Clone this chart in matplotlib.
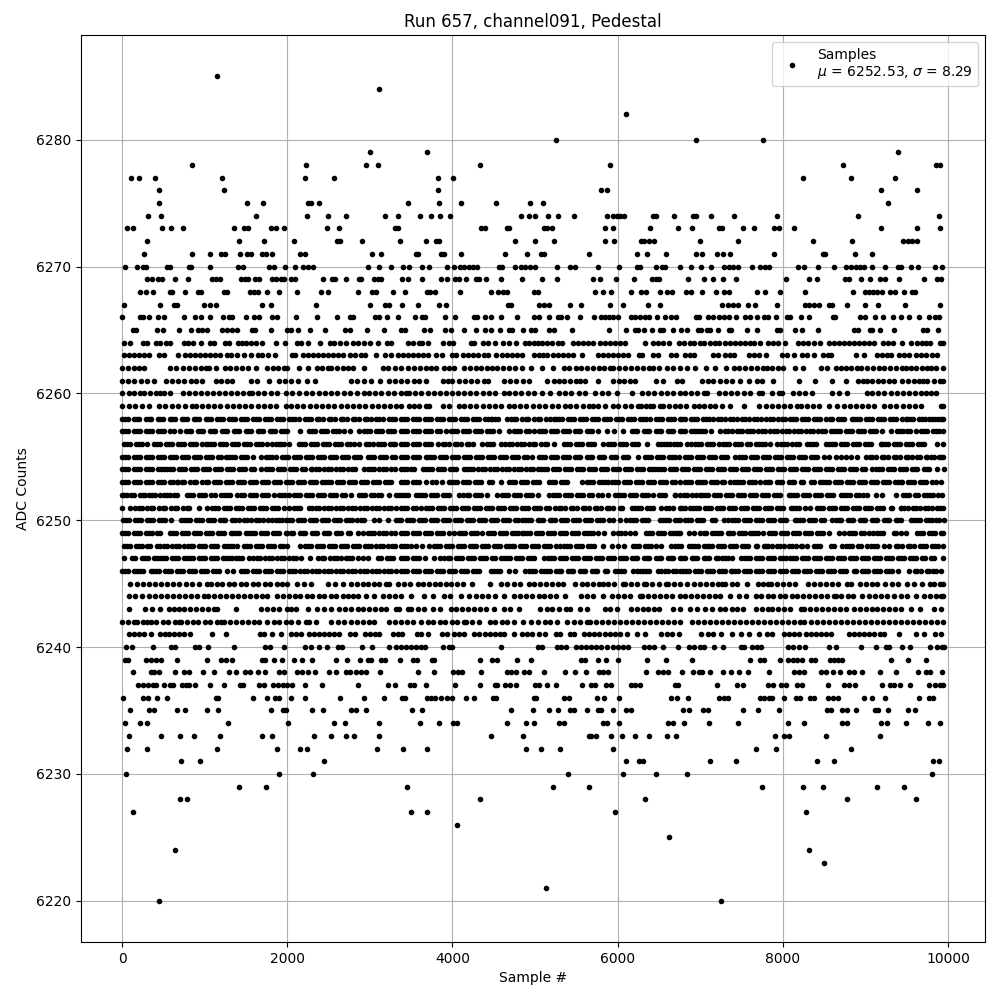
import matplotlib
matplotlib.use('Agg')
import matplotlib.pyplot as plt

# sample positions at each ADC level
x_6285 = [1148]
x_6284 = [3114]
x_6282 = [6105]
x_6280 = [5256, 6954, 7755]
x_6279 = [3005, 3696, 9393]
x_6278 = [845, 2228, 2956, 3102, 4339, 5911, 8726, 9854, 9903]
x_6277 = [105, 202, 396, 1209, 2216, 2568, 3830, 4012, 8240, 8823, 9356]
x_6276 = [445, 1233, 3830, 5802, 5875, 9187, 9623]
x_6275 = [445, 1512, 1707, 2253, 2293, 2386, 3466, 3842, 4109, 4521, 4934, 5098, 9272]
x_6274 = [311, 469, 1622, 2240, 2495, 2713, 3187, 3344, 3611, 3745, 3854, 3971, 4824, 4921, 5001, 5159, 5280, 5474,
          5875, 5947, 5996, 6032, 6081, 6433, 6469, 6687, 6918, 6954, 7136, 7403, 7925, 8908, 9890]
x_6273 = [57, 129, 481, 590, 736, 1355, 1476, 1525, 1804, 1864, 1961, 2483, 2629, 3308, 3344, 4351, 4388, 4663, 4687,
          5110, 5147, 5207, 5850, 5947, 6396, 6736, 6906, 7221, 7258, 7512, 7646, 7888, 7949, 8131, 9187, 9623, 9903]
x_6272 = [299, 1415, 1719, 2083, 2604, 2641, 2908, 3369, 3684, 3805, 3842, 4752, 5001, 5232, 5850, 5960, 6287, 6324,
          6384, 6445, 6991, 7452, 8362, 8835, 9454, 9514, 9563, 9623]
x_6271 = [263, 845, 1064, 1197, 1246, 1428, 1512, 1561, 1694, 1743, 1820, 2155, 2216, 3029, 3138, 3559, 3583, 3866,
          3902, 4109, 4630, 4897, 5074, 5110, 5656, 6239, 6360, 6590, 6954, 7027, 7197, 7270, 7355, 7888, 8483, 8507,
          8871, 9077]
x_6270 = [32, 178, 251, 287, 542, 578, 809, 833, 1064, 1403, 1464, 1779, 1840, 1973, 2095, 2192, 2253, 2313, 2980,
          3114, 3259, 3405, 3478, 3636, 3720, 3939, 4024, 4097, 4145, 4206, 4254, 4303, 4558, 4594, 4752, 4824, 4873,
          4934, 4997, 5268, 5426, 5486, 5765, 6020, 6239, 6275, 6469, 6542, 6578, 6760, 6894, 7003, 7136, 7282, 7343,
          7391, 7452, 7622, 7719, 7779, 7828, 8180, 8252, 8422, 8616, 8762, 8823, 8883, 8932, 8980, 9077, 9235, 9393,
          9429, 9551, 9636, 9842, 9927]
x_6269 = [299, 360, 433, 481, 639, 797, 1088, 1136, 1185, 1440, 1488, 1525, 1610, 1658, 1816, 1864, 1925, 1961, 2046,
          2095, 2434, 2544, 2580, 2713, 2871, 2896, 3053, 3102, 3138, 3393, 3466, 3636, 3866, 3939, 4036, 4084, 4169,
          4279, 4327, 4400, 4582, 4837, 5086, 5268, 5705, 5790, 5984, 6202, 6421, 6469, 6505, 6857, 7051, 7149, 7270,
          7428, 8034, 8313, 8410, 8750, 8798, 8944, 9053, 9175, 9235, 9405, 9708, 9866, 9915]
x_6268 = [214, 287, 372, 578, 603, 760, 918, 954, 1233, 1270, 1549, 1597, 1646, 1755, 1901, 2119, 2410, 2495, 2859,
          3029, 3078, 3284, 3429, 3696, 3733, 3793, 4097, 4461, 4546, 4606, 4655, 4982, 5031, 5729, 5826, 5923, 6166,
          6287, 6348, 6518, 6603, 6663, 6833, 6882, 7027, 7185, 7282, 7343, 7682, 7779, 7961, 8265, 8847, 8993, 9041,
          9090, 9138, 9199, 9296, 9356, 9466, 9563, 9599]
x_6267 = [20, 457, 627, 663, 991, 1064, 1136, 1694, 1804, 2350, 3005, 3187, 3235, 3393, 3587, 3842, 3927, 4667, 4703,
          5043, 5110, 5171, 5426, 5559, 5911, 6069, 6372, 6518, 7258, 7330, 7391, 7452, 7573, 7658, 7925, 8265, 8313,
          8374, 8438, 8556, 8592, 8774, 8993, 9150, 9478, 9903]
x_6266 = [0, 214, 251, 324, 433, 505, 748, 882, 954, 1064, 1221, 1294, 1330, 1500, 1597, 1658, 1816, 1876, 2107, 2362,
          2604, 2762, 2798, 3065, 3114, 3211, 3344, 3551, 3636, 3672, 3915, 4036, 4266, 4303, 4388, 4461, 4582, 4776,
          4989, 5050, 5171, 5280, 5317, 5389, 5547, 5717, 5802, 5850, 5899, 5947, 6008, 6166, 6214, 6275, 6336, 6384,
          6481, 6578, 6651, 6712, 6954, 6979, 7088, 7149, 7221, 7282, 7343, 7428, 7537, 7597, 7686, 7767, 7816, 7913,
          8046, 8083, 8216, 8313, 8604, 8628, 8932, 8993, 9114, 9211, 9332, 9429, 9526, 9648, 9769, 9842, 9890]
x_6265 = [129, 166, 421, 493, 688, 833, 918, 967, 1027, 1209, 1270, 1330, 1391, 1573, 1610, 1804, 1998, 2046, 2131,
          2277, 2459, 2701, 2762, 2968, 3175, 3381, 3429, 3660, 3733, 3915, 3987, 4145, 4279, 4388, 4461, 4570, 4679,
          4715, 4849, 4946, 4994, 5171, 5232, 5450, 5899, 6105, 6214, 6251, 6324, 6421, 6518, 6554, 6675, 6772, 6845,
          6967, 7015, 7076, 7124, 7209, 7343, 7367, 7561, 7682, 7925, 7961, 8143, 8228, 8422, 8859, 8908, 9053, 9077,
          9175, 9344, 9696, 9745, 9878]
x_6264 = [20, 93, 251, 299, 408, 457, 530, 578, 748, 797, 857, 954, 1064, 1112, 1246, 1294, 1403, 1452, 1500, 1561,
          1622, 1694, 1864, 1973, 2119, 2168, 2253, 2398, 2519, 2568, 2641, 2713, 2798, 2859, 2932, 3005, 3102, 3211,
          3259, 3466, 3527, 3599, 3636, 3708, 3890, 3963, 4012, 4230, 4266, 4364, 4436, 4509, 4606, 4679, 4764, 4873,
          4921, 4989, 5037, 5086, 5147, 5207, 5280, 5329, 5462, 5523, 5583, 5644, 5705, 5790, 5850, 5911, 5972, 6032,
          6093, 6332, 6433, 6493, 6554, 6627, 6748, 6809, 6870, 6930, 6991, 7051, 7112, 7173, 7233, 7294, 7355, 7415,
          7476, 7537, 7597, 7646, 7719, 7816, 7876, 7937, 8022, 8180, 8240, 8301, 8374, 8447, 8556, 8616, 8677, 8738,
          8798, 8859, 8920, 8980, 9041, 9102, 9211, 9272, 9332, 9441, 9551, 9623, 9684, 9733, 9781, 9903, 9939]
x_6263 = [20, 81, 142, 202, 263, 324, 445, 505, 675, 760, 821, 882, 942, 1003, 1064, 1124, 1185, 1270, 1318, 1391,
          1476, 1561, 1646, 1694, 1767, 1852, 2058, 2095, 2192, 2253, 2313, 2374, 2434, 2495, 2556, 2616, 2677, 2762,
          2823, 2896, 2944, 3078, 3187, 3259, 3344, 3405, 3466, 3527, 3587, 3648, 3700, 3805, 3878, 4000, 4048, 4133,
          4194, 4254, 4315, 4376, 4436, 4533, 4594, 4655, 4715, 4776, 4837, 4982, 5043, 5098, 5147, 5220, 5280, 5341,
          5401, 5462, 5571, 5765, 5826, 5887, 5947, 6008, 6069, 6129, 6263, 6299, 6433, 6493, 6651, 6712, 6821, 6870,
          6930, 7149, 7209, 7294, 7355, 7403, 7585, 7646, 7707, 7791, 7985, 8046, 8131, 8228, 8289, 8374, 8483, 8544,
          8580, 8883, 8980, 9138, 9199, 9260, 9308, 9405, 9466, 9526, 9611, 9672, 9733, 9805, 9866]
x_6262 = [0, 70, 140, 205, 263, 586, 650, 740, 809, 880, 950, 1020, 1051, 1132, 1241, 1310, 1385, 1450, 1525, 1618,
          1759, 1825, 1890, 1960, 2002, 2143, 2253, 2358, 2425, 2487, 2528, 2600, 2669, 2730, 2790, 2932, 3155, 3225,
          3300, 3378, 3458, 3538, 3610, 3680, 3745, 3799, 3892, 3955, 4020, 4140, 4210, 4285, 4350, 4420, 4482, 4542,
          4610, 4680, 4760, 4843, 4952, 5085, 5213, 5345, 5415, 5490, 5560, 5630, 5700, 5770, 5840, 5907, 5947, 6020,
          6090, 6165, 6240, 6310, 6380, 6430, 6503, 6600, 6670, 6750, 6840, 6933, 7074, 7175, 7309, 7406, 7475, 7545,
          7620, 7690, 7760, 7810, 7871, 7940, 8004, 8145, 8246, 8456, 8530, 8638, 8699, 8770, 8830, 8893, 8950, 9020,
          9090, 9160, 9230, 9300, 9370, 9440, 9487, 9547, 9610, 9680, 9749, 9790, 9860, 9945]
x_6261 = [0, 75, 150, 225, 300, 384, 526, 600, 680, 750, 830, 900, 970, 1132, 1197, 1265, 1334, 1557, 1638, 1780, 1900,
          1975, 2050, 2125, 2236, 2337, 2770, 2850, 2930, 3013, 3126, 3235, 3310, 3378, 3450, 3530, 3600, 3679, 3880,
          3940, 4000, 4080, 4150, 4225, 4300, 4381, 4430, 4622, 4700, 4775, 4850, 4924, 5145, 5225, 5285, 5350, 5420,
          5490, 5545, 5606, 5767, 5948, 6015, 6080, 6150, 6209, 6470, 6550, 6720, 6780, 7022, 7090, 7160, 7235, 7310,
          7380, 7487, 7588, 7681, 7750, 7879, 8194, 8384, 8590, 8768, 8909, 8970, 9022, 9083, 9150, 9215, 9280, 9345,
          9446, 9515, 9585, 9650, 9700, 9749, 9830, 9900, 9945]
x_6260 = [0, 81, 142, 222, 263, 335, 405, 465, 505, 586, 740, 810, 885, 955, 1030, 1105, 1175, 1250, 1320, 1395, 1465,
          1537, 1577, 1650, 1720, 1800, 1880, 1981, 2060, 2140, 2224, 2305, 2380, 2455, 2530, 2608, 2689, 2760, 2850,
          2932, 2993, 3065, 3140, 3215, 3290, 3378, 3438, 3478, 3550, 3625, 3700, 3775, 3850, 3920, 3995, 4070, 4145,
          4215, 4290, 4365, 4440, 4510, 4622, 4683, 4760, 4835, 4910, 4985, 5084, 5176, 5285, 5365, 5440, 5530, 5606,
          5727, 5805, 5887, 5988, 6168, 6297, 6370, 6445, 6520, 6600, 6675, 6750, 6820, 6890, 6965, 7040, 7083, 7228,
          7300, 7375, 7450, 7525, 7600, 7709, 7750, 7871, 7952, 7992, 8125, 8194, 8267, 8356, 8598, 8680, 8780, 9022,
          9083, 9155, 9230, 9305, 9380, 9455, 9530, 9600, 9669, 9729, 9790, 9850]
x_6259 = [0, 80, 160, 245, 324, 445, 520, 600, 680, 765, 849, 890, 965, 1040, 1115, 1190, 1265, 1340, 1415, 1490, 1565,
          1640, 1715, 1790, 1865, 1982, 2042, 2120, 2195, 2270, 2345, 2420, 2495, 2570, 2645, 2720, 2795, 2870, 2945,
          3020, 3095, 3170, 3245, 3320, 3378, 3478, 3530, 3600, 3679, 3719, 3880, 3960, 4080, 4140, 4215, 4290, 4365,
          4440, 4515, 4590, 4683, 4743, 4820, 4895, 4970, 5045, 5120, 5200, 5280, 5365, 5425, 5500, 5575, 5650, 5706,
          5767, 5850, 5948, 6008, 6085, 6160, 6249, 6277, 6340, 6390, 6430, 6510, 6550, 6625, 6690, 6750, 6832, 6920,
          6981, 7050, 7123, 7184, 7265, 7357, 7527, 7709, 7790, 7865, 7940, 8015, 8090, 8174, 8222, 8287, 8365, 8440,
          8558, 8659, 8740, 8810, 8881, 8961, 9030, 9103, 9224, 9300, 9375, 9450, 9525, 9600, 9669, 9911, 9945]
x_6258 = [0, 70, 140, 210, 285, 355, 430, 500, 575, 645, 720, 790, 865, 935, 1010, 1080, 1155, 1225, 1300, 1370, 1445,
          1515, 1590, 1660, 1735, 1805, 1880, 1950, 2025, 2095, 2143, 2210, 2285, 2355, 2430, 2500, 2575, 2645, 2720,
          2790, 2865, 2935, 3010, 3080, 3155, 3235, 3310, 3378, 3450, 3520, 3595, 3665, 3740, 3810, 3885, 3955, 4030,
          4100, 4175, 4245, 4320, 4390, 4462, 4483, 4555, 4663, 4703, 4775, 4845, 4920, 4990, 5065, 5135, 5225, 5253,
          5325, 5400, 5470, 5545, 5615, 5690, 5760, 5835, 5905, 5980, 6050, 6125, 6195, 6270, 6340, 6390, 6470, 6540,
          6615, 6685, 6750, 6820, 6890, 6965, 7034, 7075, 7150, 7220, 7295, 7365, 7440, 7510, 7585, 7655, 7730, 7800,
          7875, 7945, 8020, 8090, 8165, 8235, 8310, 8380, 8455, 8525, 8600, 8670, 8745, 8840, 8860, 8935, 9005, 9080,
          9150, 9225, 9295, 9370, 9440, 9487, 9507, 9580, 9650, 9725, 9770, 9800, 9875, 9945]
x_6257 = [0, 70, 145, 215, 290, 360, 435, 505, 580, 627, 700, 768, 840, 915, 985, 1060, 1130, 1205, 1275, 1350, 1420,
          1495, 1565, 1640, 1710, 1785, 1855, 1930, 2002, 2155, 2265, 2340, 2410, 2485, 2555, 2629, 2681, 2755, 2871,
          2932, 3005, 3080, 3150, 3225, 3295, 3378, 3450, 3525, 3595, 3670, 3740, 3815, 3920, 3980, 4055, 4125, 4200,
          4270, 4345, 4415, 4490, 4560, 4683, 4743, 4815, 4890, 4984, 5044, 5115, 5190, 5260, 5335, 5405, 5480, 5550,
          5625, 5695, 5767, 5868, 5956, 6068, 6168, 6240, 6315, 6385, 6460, 6530, 6605, 6675, 6750, 6820, 6890, 6950,
          6980, 7055, 7125, 7245, 7305, 7380, 7450, 7507, 7560, 7635, 7705, 7780, 7850, 7925, 7995, 8070, 8140, 8215,
          8285, 8360, 8430, 8505, 8578, 8618, 8690, 8765, 8835, 8910, 8980, 9055, 9125, 9200, 9305, 9386, 9460, 9540,
          9608, 9677, 9750, 9820, 9895, 9945]
x_6256 = [20, 95, 165, 240, 303, 384, 455, 530, 600, 675, 745, 820, 890, 965, 1011, 1039, 1110, 1185, 1255, 1330, 1400,
          1475, 1545, 1620, 1690, 1759, 1820, 1895, 1965, 2022, 2143, 2215, 2290, 2360, 2435, 2505, 2580, 2650, 2725,
          2811, 2871, 2950, 3033, 3094, 3165, 3240, 3310, 3378, 3450, 3525, 3595, 3670, 3740, 3819, 3880, 3955, 4025,
          4100, 4170, 4245, 4361, 4421, 4495, 4582, 4642, 4715, 4785, 4860, 4930, 5005, 5075, 5150, 5225, 5345, 5420,
          5490, 5565, 5635, 5710, 5827, 5887, 5960, 6030, 6105, 6175, 6250, 6350, 6490, 6565, 6635, 6680, 6750, 6840,
          6890, 6940, 7010, 7085, 7155, 7224, 7277, 7350, 7420, 7495, 7565, 7669, 7709, 7780, 7850, 7931, 7972, 8045,
          8115, 8190, 8295, 8327, 8400, 8517, 8558, 8630, 8700, 8775, 8845, 8920, 8990, 9065, 9184, 9204, 9275, 9350,
          9420, 9495, 9565, 9640, 9709, 9870, 9945]
x_6255 = [0, 70, 145, 215, 290, 360, 435, 505, 580, 650, 725, 795, 870, 940, 1015, 1085, 1160, 1254, 1294, 1365, 1440,
          1510, 1585, 1678, 1739, 1820, 1860, 1935, 2005, 2080, 2150, 2225, 2295, 2370, 2440, 2515, 2585, 2660, 2730,
          2805, 2875, 2972, 3053, 3125, 3200, 3270, 3378, 3450, 3525, 3595, 3679, 3700, 3775, 3845, 3920, 3990, 4065,
          4135, 4210, 4280, 4355, 4425, 4500, 4570, 4645, 4715, 4790, 4860, 4964, 5044, 5115, 5190, 5260, 5335, 5405,
          5480, 5550, 5625, 5695, 5770, 5840, 5915, 5985, 6060, 6130, 6249, 6330, 6405, 6475, 6550, 6620, 6695, 6740,
          6815, 6885, 6960, 7030, 7105, 7175, 7250, 7320, 7426, 7467, 7540, 7610, 7685, 7755, 7830, 7900, 7975, 8045,
          8120, 8190, 8265, 8335, 8410, 8497, 8558, 8638, 8700, 8760, 8820, 8895, 9002, 9050, 9125, 9195, 9270, 9340,
          9415, 9485, 9560, 9630, 9729, 9749, 9825, 9895, 9945]
x_6254 = [0, 70, 145, 215, 290, 360, 435, 505, 546, 620, 690, 765, 835, 910, 980, 1055, 1125, 1200, 1270, 1345, 1415,
          1490, 1560, 1678, 1739, 1810, 1885, 1955, 2030, 2100, 2175, 2285, 2305, 2380, 2450, 2525, 2595, 2670, 2740,
          2815, 2932, 2972, 3045, 3115, 3190, 3260, 3378, 3445, 3498, 3538, 3639, 3679, 3755, 3825, 3900, 3970, 4045,
          4140, 4172, 4245, 4315, 4390, 4460, 4535, 4605, 4680, 4750, 4825, 4895, 4970, 5040, 5104, 5145, 5220, 5290,
          5365, 5435, 5510, 5580, 5655, 5725, 5800, 5870, 5945, 6015, 6090, 6160, 6235, 6305, 6380, 6450, 6490, 6565,
          6635, 6710, 6780, 6855, 6925, 7000, 7070, 7145, 7215, 7290, 7360, 7435, 7505, 7580, 7650, 7725, 7795, 7870,
          7940, 8015, 8085, 8160, 8230, 8305, 8375, 8450, 8520, 8595, 8665, 8740, 8810, 8885, 8955, 9083, 9123, 9195,
          9270, 9340, 9415, 9485, 9560, 9630, 9705, 9775, 9870, 9950]
x_6253 = [0, 70, 145, 215, 290, 360, 435, 505, 580, 663, 680, 755, 825, 900, 970, 1045, 1115, 1190, 1260, 1335, 1405,
          1480, 1550, 1625, 1695, 1770, 1840, 1915, 1985, 2060, 2130, 2205, 2275, 2350, 2420, 2487, 2527, 2600, 2670,
          2745, 2815, 2890, 2960, 3035, 3105, 3180, 3250, 3378, 3450, 3525, 3595, 3679, 3750, 3800, 3875, 3960, 3980,
          4055, 4125, 4200, 4270, 4345, 4442, 4482, 4582, 4683, 4755, 4830, 4900, 4975, 5044, 5165, 5240, 5310, 5385,
          5574, 5626, 5700, 5770, 5845, 5887, 5927, 6000, 6075, 6145, 6220, 6290, 6365, 6435, 6510, 6580, 6655, 6750,
          6820, 6890, 6960, 6980, 7055, 7125, 7200, 7265, 7285, 7360, 7406, 7446, 7520, 7590, 7665, 7729, 7778, 7850,
          7925, 7995, 8070, 8140, 8215, 8335, 8375, 8450, 8517, 8558, 8630, 8705, 8775, 8850, 8920, 8995, 9065, 9140,
          9210, 9285, 9355, 9426, 9446, 9520, 9590, 9665, 9735, 9810, 9910]
x_6252 = [0, 20, 61, 142, 215, 283, 324, 395, 465, 505, 575, 627, 667, 789, 860, 935, 1005, 1080, 1193, 1234, 1310, 1395,
          1476, 1550, 1620, 1695, 1765, 1840, 1900, 1941, 2015, 2085, 2160, 2230, 2305, 2375, 2450, 2520, 2595, 2665,
          2770, 2871, 2945, 3015, 3094, 3134, 3235, 3317, 3390, 3460, 3558, 3598, 3670, 3745, 3815, 3890, 3960, 4080,
          4132, 4205, 4275, 4350, 4420, 4542, 4602, 4675, 4745, 4820, 4890, 4965, 5035, 5165, 5217, 5290, 5360, 5435,
          5505, 5580, 5650, 5767, 5807, 5880, 5968, 6008, 6080, 6155, 6225, 6300, 6369, 6430, 6505, 6575, 6691, 6700,
          6760, 6835, 6905, 7002, 7022, 7095, 7165, 7240, 7310, 7385, 7455, 7530, 7600, 7675, 7745, 7820, 7890, 7965,
          8073, 8100, 8175, 8245, 8320, 8390, 8465, 8535, 8610, 8700, 8740, 8815, 8885, 8974, 9022, 9123, 9204, 9366,
          9455, 9530, 9600, 9709, 9749, 9820, 9930]
x_6251 = [0, 101, 162, 235, 305, 380, 450, 525, 595, 670, 740, 815, 930, 1023, 1092, 1165, 1235, 1310, 1380, 1455, 1525,
          1600, 1670, 1745, 1815, 1890, 1960, 2022, 2083, 2160, 2265, 2305, 2380, 2450, 2525, 2595, 2670, 2740, 2815,
          2885, 2960, 3030, 3105, 3175, 3250, 3320, 3378, 3450, 3525, 3618, 3679, 3755, 3825, 3900, 3970, 4045, 4115,
          4190, 4260, 4335, 4405, 4480, 4550, 4625, 4695, 4770, 4840, 4915, 4985, 5060, 5130, 5245, 5285, 5360, 5430,
          5505, 5575, 5650, 5720, 5795, 5865, 5940, 6028, 6048, 6168, 6209, 6280, 6355, 6425, 6530, 6590, 6665, 6750,
          6820, 6880, 6910, 6985, 7055, 7130, 7200, 7275, 7345, 7420, 7490, 7565, 7635, 7710, 7780, 7855, 7925, 8000,
          8093, 8125, 8200, 8270, 8327, 8416, 8490, 8560, 8635, 8705, 8780, 8850, 8925, 8995, 9070, 9140, 9215, 9305,
          9325, 9426, 9435, 9510, 9580, 9655, 9725, 9800, 9870, 9945]
x_6250 = [8, 81, 155, 225, 300, 370, 445, 515, 590, 708, 748, 820, 895, 965, 1040, 1110, 1185, 1241, 1335, 1410, 1480,
          1555, 1625, 1700, 1770, 1860, 1900, 1941, 1981, 2055, 2125, 2200, 2270, 2345, 2415, 2490, 2560, 2635, 2705,
          2780, 2850, 2925, 3053, 3114, 3223, 3316, 3378, 3450, 3520, 3595, 3665, 3740, 3810, 3885, 3955, 4030, 4100,
          4175, 4245, 4320, 4390, 4465, 4535, 4610, 4680, 4755, 4843, 4884, 4955, 5030, 5100, 5175, 5245, 5320, 5390,
          5465, 5535, 5610, 5680, 5755, 5825, 5900, 6028, 6096, 6148, 6220, 6295, 6365, 6510, 6550, 6625, 6695, 6750,
          6820, 6890, 6965, 7035, 7143, 7184, 7285, 7333, 7385, 7460, 7530, 7605, 7675, 7750, 7820, 7895, 7965, 8040,
          8153, 8174, 8250, 8320, 8395, 8465, 8598, 8638, 8710, 8785, 8855, 8930, 9000, 9075, 9145, 9220, 9290, 9365,
          9435, 9547, 9587, 9660, 9730, 9805, 9890, 9950]
x_6249 = [0, 70, 145, 215, 290, 360, 425, 457, 578, 650, 725, 795, 870, 940, 1015, 1085, 1160, 1230, 1314, 1347, 1420,
          1496, 1537, 1610, 1680, 1755, 1825, 1900, 1982, 2002, 2075, 2150, 2220, 2295, 2365, 2440, 2510, 2585, 2655,
          2730, 2851, 2912, 2972, 3045, 3115, 3190, 3260, 3378, 3450, 3520, 3595, 3665, 3740, 3810, 3885, 3960, 4020,
          4080, 4155, 4225, 4300, 4361, 4430, 4505, 4575, 4650, 4720, 4795, 4843, 4863, 4935, 5010, 5080, 5155, 5225,
          5300, 5370, 5445, 5515, 5590, 5667, 5700, 5767, 5840, 5948, 6008, 6085, 6150, 6209, 6341, 6415, 6485, 6560,
          6630, 6710, 6730, 6760, 6860, 6930, 7002, 7075, 7143, 7184, 7255, 7330, 7400, 7475, 7545, 7608, 7628, 7700,
          7760, 7830, 7905, 7975, 8050, 8120, 8195, 8265, 8340, 8410, 8485, 8555, 8679, 8739, 8800, 8875, 8945, 9043,
          9090, 9143, 9215, 9345, 9366, 9430, 9487, 9620, 9695, 9765, 9840, 9910, 9945]
x_6248 = [20, 95, 165, 240, 303, 335, 425, 465, 540, 610, 685, 755, 829, 861, 935, 1005, 1080, 1150, 1233, 1274, 1345,
          1395, 1476, 1550, 1620, 1695, 1765, 1840, 1910, 2002, 2155, 2212, 2285, 2355, 2430, 2500, 2575, 2645, 2720,
          2790, 2865, 2935, 3010, 3080, 3155, 3225, 3300, 3378, 3450, 3498, 3558, 3630, 3719, 3779, 3850, 3925, 3995,
          4070, 4140, 4215, 4285, 4360, 4430, 4505, 4575, 4650, 4723, 4743, 4815, 4890, 4960, 5035, 5105, 5180, 5250,
          5305, 5345, 5420, 5490, 5565, 5635, 5710, 5827, 5928, 6008, 6080, 6181, 6255, 6325, 6400, 6470, 6530, 6650,
          6700, 6770, 6860, 6900, 6975, 7045, 7103, 7143, 7215, 7290, 7360, 7435, 7505, 7580, 7669, 7689, 7770, 7790,
          7865, 7935, 8010, 8080, 8155, 8214, 8234, 8295, 8376, 8450, 8578, 8618, 8719, 8768, 8840, 8915, 9022, 9062,
          9135, 9224, 9285, 9366, 9440, 9510, 9585, 9655, 9730, 9800, 9875, 9945]
x_6247 = [20, 121, 162, 243, 315, 385, 425, 457, 530, 600, 675, 745, 820, 861, 930, 1005, 1075, 1150, 1220, 1295, 1334,
          1375, 1450, 1537, 1590, 1665, 1735, 1810, 1880, 1955, 2025, 2100, 2164, 2273, 2374, 2450, 2520, 2608, 2649,
          2709, 2780, 2855, 2912, 2972, 3094, 3134, 3205, 3280, 3378, 3450, 3520, 3595, 3665, 3779, 3851, 3900, 3975,
          4045, 4120, 4190, 4265, 4335, 4410, 4480, 4582, 4622, 4695, 4765, 4840, 4910, 4985, 5104, 5153, 5225, 5300,
          5370, 5445, 5515, 5590, 5660, 5735, 5805, 5880, 5950, 6025, 6095, 6170, 6240, 6315, 6385, 6460, 6530, 6605,
          6675, 6750, 6820, 6895, 6965, 7040, 7110, 7185, 7265, 7305, 7380, 7495, 7527, 7600, 7670, 7745, 7815, 7890,
          7960, 8044, 8085, 8160, 8230, 8305, 8375, 8450, 8520, 8595, 8665, 8740, 8810, 8885, 8955, 9030, 9100, 9175,
          9245, 9320, 9390, 9465, 9535, 9610, 9680, 9790, 9830, 9945]
x_6246 = [0, 75, 150, 222, 255, 344, 376, 450, 520, 595, 665, 740, 810, 885, 955, 1030, 1100, 1175, 1274, 1343, 1436,
          1510, 1580, 1655, 1725, 1800, 1870, 1945, 2015, 2090, 2160, 2235, 2305, 2380, 2450, 2525, 2595, 2670, 2740,
          2815, 2885, 2960, 3030, 3105, 3175, 3250, 3320, 3378, 3450, 3520, 3595, 3665, 3740, 3810, 3885, 3955, 4030,
          4100, 4175, 4245, 4320, 4462, 4502, 4575, 4683, 4763, 4884, 4924, 5000, 5070, 5145, 5177, 5250, 5320, 5395,
          5465, 5540, 5610, 5685, 5755, 5847, 5868, 5968, 6000, 6075, 6189, 6237, 6310, 6380, 6490, 6530, 6605, 6675,
          6760, 6792, 6865, 6935, 7010, 7080, 7155, 7225, 7300, 7374, 7385, 7460, 7530, 7605, 7675, 7750, 7820, 7895,
          7965, 8040, 8110, 8185, 8255, 8330, 8400, 8475, 8545, 8620, 8690, 8765, 8860, 8880, 8960, 9035, 9105, 9180,
          9250, 9325, 9395, 9527, 9595, 9670, 9740, 9815, 9910]
x_6245 = [101, 182, 255, 325, 400, 470, 545, 615, 690, 768, 849, 930, 1031, 1072, 1145, 1215, 1290, 1360, 1435, 1505,
          1580, 1650, 1725, 1795, 1870, 1940, 2002, 2123, 2200, 2285, 2487, 2580, 2669, 2770, 2840, 2912, 2972, 3045,
          3115, 3190, 3235, 3340, 3415, 3485, 3578, 3638, 3710, 3785, 3855, 3920, 3980, 4060, 4130, 4241, 4450, 4582,
          4655, 4743, 4823, 4924, 4984, 5055, 5130, 5200, 5275, 5337, 5486, 5566, 5626, 5700, 5770, 5827, 5887, 5960,
          6068, 6088, 6160, 6235, 6317, 6349, 6420, 6495, 6590, 6610, 6685, 6750, 6840, 6920, 6995, 7065, 7140, 7210,
          7265, 7305, 7380, 7450, 7560, 7697, 7760, 7818, 7860, 7935, 8005, 8080, 8153, 8303, 8375, 8450, 8520, 8595,
          8665, 8780, 8820, 8933, 9002, 9075, 9143, 9236, 9325, 9400, 9507, 9588, 9689, 9782, 9830, 9905, 9945]
x_6244 = [81, 155, 243, 324, 400, 470, 545, 615, 690, 760, 835, 905, 990, 1039, 1115, 1185, 1260, 1330, 1405, 1475, 1550,
          1620, 1695, 1759, 1872, 1945, 2015, 2090, 2160, 2235, 2305, 2380, 2450, 2525, 2595, 2670, 2740, 2790, 2851,
          2952, 3053, 3154, 3230, 3300, 3378, 3498, 3650, 3760, 3892, 3972, 4108, 4200, 4281, 4361, 4435, 4510, 4622,
          4743, 4815, 4890, 4960, 5044, 5112, 5185, 5255, 5365, 5554, 5630, 5706, 5827, 5928, 6000, 6075, 6145, 6269,
          6297, 6370, 6440, 6515, 6585, 6660, 6750, 6815, 6890, 6960, 7035, 7105, 7184, 7245, 7366, 7467, 7548, 7669,
          7740, 7815, 7885, 7960, 8030, 8105, 8175, 8250, 8320, 8395, 8465, 8540, 8618, 8638, 8710, 8785, 8855, 8962,
          9046, 9111, 9185, 9255, 9345, 9426, 9500, 9608, 9709, 9780, 9850, 9911, 9945]
x_6243 = [81, 283, 364, 465, 566, 627, 690, 748, 821, 890, 965, 1035, 1110, 1152, 1375, 1678, 1755, 1825, 1900, 2002,
          2042, 2103, 2253, 2358, 2447, 2528, 2629, 2700, 2775, 2851, 2912, 2985, 3060, 3134, 3195, 3317, 3357, 3458,
          3498, 3578, 3659, 3760, 3851, 3980, 4040, 4115, 4185, 4260, 4330, 4405, 4502, 4622, 4695, 4803, 5064, 5140,
          5210, 5285, 5377, 5425, 5546, 5626, 5847, 5907, 5988, 6157, 6230, 6309, 6370, 6445, 6502, 6670, 6750, 6880,
          6955, 7063, 7143, 7245, 7305, 7380, 7450, 7519, 7669, 7745, 7818, 7870, 7945, 8015, 8090, 8214, 8255, 8325,
          8396, 8477, 8550, 8620, 8695, 8768, 8860, 8935, 9005, 9083, 9143, 9215, 9290, 9360, 9426, 9547, 9660, 9830,
          9911]
x_6242 = [0, 70, 141, 182, 255, 303, 344, 415, 490, 560, 635, 688, 708, 780, 855, 925, 1000, 1070, 1145, 1193, 1233,
          1305, 1380, 1450, 1525, 1595, 1658, 1759, 1835, 1905, 1980, 2050, 2125, 2224, 2265, 2346, 2528, 2610, 2689,
          2770, 2845, 2915, 2990, 3053, 3235, 3305, 3380, 3450, 3525, 3620, 3700, 3770, 3845, 3915, 3990, 4060, 4145,
          4165, 4240, 4327, 4449, 4520, 4595, 4665, 4743, 4853, 4954, 5030, 5125, 5185, 5260, 5385, 5466, 5540, 5626,
          5667, 5740, 5810, 5885, 5955, 6030, 6100, 6175, 6245, 6320, 6390, 6465, 6535, 6610, 6680, 6750, 6900, 6975,
          7045, 7120, 7190, 7265, 7335, 7410, 7480, 7555, 7625, 7700, 7770, 7845, 7915, 7990, 8060, 8135, 8205, 8255,
          8335, 8416, 8490, 8560, 8635, 8705, 8780, 8850, 8925, 8995, 9070, 9140, 9215, 9285, 9360, 9430, 9505, 9575,
          9650, 9720, 9795, 9865, 9945]
x_6241 = [81, 142, 202, 263, 348, 457, 518, 566, 627, 688, 748, 821, 1088, 1258, 1670, 1719, 1816, 1925, 2042, 2103,
          2164, 2265, 2325, 2386, 2447, 2507, 2568, 2629, 2762, 2823, 2944, 3005, 3065, 3114, 3284, 3344, 3393, 3575,
          3624, 3708, 3878, 3939, 4024, 4084, 4145, 4266, 4327, 4388, 4449, 4509, 4570, 4618, 4743, 4837, 4897, 4958,
          5043, 5122, 5256, 5304, 5426, 5474, 5596, 5656, 5717, 5778, 5850, 5911, 5972, 6032, 6117, 6239, 6336, 6530,
          6603, 6663, 6748, 7015, 7088, 7149, 7246, 7379, 7488, 7585, 7707, 7804, 7864, 8010, 8071, 8131, 8192, 8277,
          8337, 8398, 8459, 8519, 8580, 8798, 8859, 8920, 8980, 9041, 9102, 9175, 9223, 9405, 9611, 9708, 9842, 9915]
x_6240 = [44, 117, 372, 590, 639, 882, 930, 1039, 1355, 1731, 1791, 1961, 2216, 2289, 2386, 2483, 2616, 2665, 2908, 3029,
          3235, 3320, 3381, 3441, 3502, 3563, 3624, 3672, 3890, 3963, 4000, 4582, 5037, 5086, 5268, 5317, 5377, 5499,
          5559, 5620, 5680, 5741, 5802, 5875, 5947, 6008, 6069, 6129, 6324, 6384, 6445, 6554, 6736, 6869, 6930, 6991,
          7051, 7161, 7270, 7488, 7525, 7622, 7682, 7731, 8058, 8119, 8192, 8265, 8556, 8640, 8944, 9126, 9247, 9284,
          9441, 9538, 9781, 9866, 9927, 9950]
x_6239 = [32, 69, 287, 348, 408, 469, 663, 1027, 1197, 1258, 1330, 1694, 1731, 1840, 1937, 2083, 2180, 2301, 2592, 2726,
          2883, 2980, 3017, 3138, 3187, 3369, 3527, 3575, 3757, 3781, 4339, 4473, 4545, 4776, 4946, 5559, 5608, 5765,
          5862, 6008, 6360, 6590, 6906, 7597, 7719, 7767, 7961, 8058, 8119, 8168, 8228, 8337, 8386, 8568, 8616, 8665,
          8713, 9308, 9514, 9733]
x_6238 = [129, 348, 384, 445, 639, 748, 809, 979, 1112, 1294, 1379, 1488, 1549, 1646, 1731, 1901, 1961, 2119, 2180,
          2253, 2337, 2507, 2592, 2713, 2762, 2835, 2896, 2956, 3126, 3587, 3781, 4012, 4073, 4121, 4351, 4655, 4703,
          4764, 4861, 4921, 5110, 5365, 5486, 5620, 5778, 5826, 5887, 6348, 6493, 6554, 6615, 6785, 6918, 6979, 7027,
          7112, 7270, 7367, 7464, 7573, 7828, 8131, 8192, 8252, 8459, 8519, 8604, 8689, 8798, 8859, 8956, 9175, 9369,
          9636, 9733, 9781, 9927]
x_6237 = [190, 251, 311, 372, 412, 505, 578, 615, 724, 772, 809, 882, 1064, 1233, 1428, 1464, 1658, 1719, 1828, 1889,
          1949, 1998, 2058, 2216, 2422, 2859, 3223, 3308, 3490, 3539, 3684, 4036, 4339, 4509, 4545, 4630, 4691, 4764,
          4994, 5050, 5147, 5256, 5571, 5680, 5729, 5862, 5923, 6166, 6214, 6275, 6700, 6736, 7197, 7440, 7512, 7816,
          7876, 7973, 8034, 8168, 8228, 8544, 8738, 8798, 8871, 9199, 9296, 9344, 9417, 9538, 9769, 9842, 9903, 9939]
x_6236 = [8, 251, 311, 421, 542, 1132, 1160, 1585, 1755, 1852, 1901, 2046, 2216, 2641, 2932, 3175, 3393, 3429, 3696, 3745,
          3793, 3866, 3939, 4000, 4169, 4266, 4485, 4521, 4982, 5013, 5353, 5414, 5753, 5838, 6020, 6651, 6724, 6857,
          7221, 7282, 7330, 7719, 7767, 7828, 7864, 8010, 8156, 8204, 8325, 8374, 8544, 8604, 8665, 8980, 9077, 9235,
          9648, 9769, 9818]
x_6235 = [93, 324, 384, 663, 760, 1027, 1160, 1804, 1949, 1986, 2301, 2434, 2774, 2835, 2956, 3514, 3636, 4703, 4977,
          5171, 5280, 5426, 5474, 5624, 5765, 5802, 5947, 6105, 6166, 6797, 6869, 7039, 7088, 7512, 7694, 7949, 8532,
          8580, 8713, 8774, 8883, 9114, 9150, 9272, 9514, 9599]
x_6234 = [32, 214, 299, 1282, 2010, 2568, 2701, 3114, 3611, 3842, 4012, 4060, 4655, 4885, 4989, 5292, 5353, 5826, 5875,
          6020, 6615, 6675, 6809, 7100, 7452, 8058, 8252, 8713, 8774, 9187, 9260, 9490, 9757, 9903]
x_6233 = [81, 469, 700, 869, 1185, 1694, 1816, 2325, 2532, 2713, 2811, 3114, 4461, 4849, 5656, 5680, 5741, 5923, 6057,
          6214, 6384, 6603, 6712, 7901, 8010, 8071, 8519, 9175]
x_6232 = [57, 299, 1148, 1876, 2155, 2240, 3090, 3405, 3696, 4885, 5067, 5304, 5947, 7670, 7913, 8823]
x_6231 = [712, 942, 2447, 6105, 6263, 6311, 7124, 7428, 8410, 8616, 9818, 9890]
x_6230 = [44, 1901, 2313, 5401, 6069, 6469, 6845, 9805]
x_6229 = [1415, 1743, 3454, 5220, 5656, 7743, 8240, 8483, 9138, 9466]
x_6228 = [700, 785, 4339, 6336, 8774, 9611]
x_6227 = [129, 3502, 3696, 5972, 8277]
x_6226 = [4060]
x_6225 = [6627]
x_6224 = [639, 8313]
x_6223 = [8495]
x_6221 = [5135]
x_6220 = [445, 7246]

# more samples inside the solid runs of the middle rows
more_6258 = [35, 175, 320, 465, 610, 755, 900, 1045, 1190, 1335, 1480, 1625, 1770, 1915, 2060, 2245, 2390, 2535, 2680,
             2825, 2970, 3115, 3270, 3415, 3560, 3700, 3850, 3990, 4135, 4280, 4425, 4520, 4740, 4885, 5030, 5175, 5290,
             5435, 5580, 5725, 5870, 6015, 6160, 6305, 6505, 6650, 6785, 6930, 7110, 7255, 7400, 7545, 7690, 7840, 7985,
             8125, 8270, 8415, 8565, 8710, 8900, 9045, 9190, 9335, 9545, 9690, 9840, 9910]
more_6257 = [35, 180, 325, 470, 805, 950, 1095, 1240, 1385, 1530, 1675, 1820, 1965, 2300, 2445, 2590, 2965, 3115, 3260,
             3415, 3560, 3705, 3850, 4020, 4160, 4305, 4450, 4780, 4925, 5080, 5225, 5370, 5515, 5660, 6205, 6350, 6495,
             6640, 6785, 6925, 7020, 7340, 7480, 7600, 7745, 7890, 8035, 8180, 8325, 8470, 8655, 8800, 8945, 9090, 9420,
             9500, 9715, 9860]
more_6256 = [55, 200, 420, 565, 710, 855, 1075, 1220, 1365, 1510, 1655, 1860, 1930, 2180, 2325, 2470, 2615, 2760, 2985,
             3130, 3275, 3415, 3560, 3705, 3915, 4060, 4205, 4460, 4680, 4825, 4970, 5115, 5385, 5530, 5675, 5925, 6070,
             6215, 6530, 6600, 6715, 6975, 7120, 7315, 7460, 7605, 7745, 8010, 8155, 8365, 8595, 8740, 8885, 9030, 9240,
             9385, 9530, 9675]
more_6255 = [35, 180, 325, 470, 615, 760, 905, 1050, 1195, 1330, 1475, 1780, 1970, 2115, 2260, 2405, 2550, 2695, 2840,
             3010, 3160, 3305, 3415, 3560, 3740, 3885, 4030, 4175, 4320, 4465, 4610, 4755, 4900, 5080, 5225, 5370, 5515,
             5660, 5805, 5950, 6095, 6370, 6515, 6660, 6850, 6995, 7140, 7285, 7505, 7650, 7795, 7940, 8085, 8230, 8375,
             9085, 9230, 9375, 9520, 9665, 9790, 9920]
more_6254 = [35, 180, 325, 470, 585, 730, 875, 1020, 1165, 1310, 1455, 1600, 1775, 1920, 2065, 2210, 2345, 2490, 2635,
             2780, 3010, 3155, 3300, 3410, 3720, 3865, 4010, 4210, 4355, 4500, 4645, 4790, 4935, 5075, 5255, 5400, 5545,
             5690, 5835, 5980, 6125, 6270, 6415, 6530, 6675, 6820, 6965, 7110, 7255, 7400, 7545, 7690, 7835, 7980, 8125,
             8270, 8415, 8560, 8705, 8850, 8995, 9160, 9305, 9450, 9595, 9740]
more_6253 = [35, 180, 325, 470, 620, 720, 865, 1010, 1155, 1300, 1445, 1590, 1735, 1880, 2025, 2170, 2315, 2455, 2635,
             2780, 2925, 3070, 3215, 3415, 3560, 4020, 4165, 4310, 4720, 4865, 5010, 5200, 5345, 5665, 5810, 5965, 6110,
             6255, 6400, 6545, 6700, 6855, 7020, 7165, 7480, 7625, 7815, 7960, 8105, 8250, 8485, 8665, 8810, 8955, 9100,
             9245, 9390, 9555, 9700, 9850]
more_6252 = [105, 250, 360, 540, 825, 970, 1120, 1270, 1435, 1585, 1730, 1975, 2120, 2265, 2410, 2555, 2700, 2905, 3050,
             3350, 3425, 3635, 3780, 3925, 4170, 4315, 4640, 4785, 4930, 5255, 5400, 5545, 5690, 6045, 6190, 6335, 6540,
             6800, 6945, 7060, 7205, 7350, 7495, 7640, 7785, 7930, 8135, 8280, 8425, 8570, 8775, 8920, 9490, 9635, 9785,
             9880]
more_6251 = [200, 345, 490, 635, 780, 1130, 1275, 1420, 1565, 1710, 1855, 2120, 2345, 2490, 2635, 2780, 2925, 3070, 3215,
             3415, 3560, 3715, 3860, 4005, 4150, 4295, 4440, 4590, 4735, 4880, 5025, 5170, 5320, 5465, 5610, 5755, 5900,
             6245, 6390, 6625, 6785, 6945, 7090, 7235, 7380, 7525, 7670, 7815, 7960, 8160, 8450, 8595, 8740, 8885, 9030,
             9175, 9470, 9615, 9760, 9905]
more_6250 = [45, 190, 335, 480, 785, 930, 1075, 1220, 1370, 1515, 1660, 1820, 2020, 2165, 2310, 2455, 2600, 2745, 2890,
             3350, 3485, 3630, 3775, 3920, 4065, 4210, 4355, 4500, 4645, 4790, 4920, 5065, 5210, 5355, 5500, 5645, 5790,
             5945, 6185, 6330, 6590, 6730, 6855, 7000, 7420, 7565, 7710, 7855, 8000, 8210, 8355, 8500, 8675, 8820, 8965,
             9110, 9255, 9400, 9625, 9770, 9850]
more_6249 = [35, 180, 325, 615, 760, 905, 1050, 1195, 1385, 1575, 1720, 1865, 2040, 2185, 2330, 2475, 2620, 2765, 3010,
             3155, 3300, 3415, 3560, 3705, 3850, 4120, 4265, 4470, 4610, 4760, 4900, 5045, 5190, 5335, 5480, 5625, 6045,
             6380, 6525, 6670, 7040, 7220, 7365, 7510, 7665, 7870, 8015, 8160, 8305, 8450, 8840, 8985, 9180, 9655, 9800]
more_6248 = [60, 205, 505, 650, 795, 970, 1115, 1310, 1515, 1660, 1805, 1950, 2250, 2395, 2540, 2685, 2830, 2975, 3120,
             3265, 3415, 3815, 3960, 4105, 4250, 4395, 4540, 4685, 4855, 5000, 5145, 5385, 5530, 5675, 6220, 6365, 6735,
             6940, 7080, 7250, 7395, 7540, 7825, 7970, 8115, 8415, 8805, 8950, 9100, 9400, 9545, 9695, 9840]
more_6247 = [280, 495, 640, 785, 970, 1115, 1260, 1415, 1630, 1775, 1920, 2065, 2415, 2560, 2745, 3240, 3415, 3560, 3940,
             4085, 4230, 4375, 4520, 4660, 4805, 4950, 5190, 5335, 5480, 5625, 5770, 5915, 6060, 6205, 6350, 6495, 6640,
             6785, 6930, 7075, 7220, 7340, 7565, 7710, 7855, 8000, 8125, 8270, 8415, 8560, 8705, 8850, 8995, 9140, 9285,
             9430, 9575, 9720]
more_6246 = [40, 185, 415, 560, 705, 850, 995, 1140, 1475, 1620, 1765, 1910, 2055, 2200, 2345, 2490, 2635, 2780, 2925,
             3070, 3215, 3415, 3560, 3705, 3850, 3995, 4140, 4285, 4540, 4965, 5110, 5285, 5430, 5575, 5720, 6035, 6275,
             6345, 6570, 6710, 6830, 6975, 7120, 7265, 7425, 7570, 7715, 7860, 8005, 8150, 8295, 8440, 8585, 8730, 8995,
             9140, 9285, 9630, 9775, 9860]

levels = [6285, 6284, 6282, 6280, 6279, 6278, 6277, 6276, 6275, 6274, 6273, 6272, 6271, 6270, 6269, 6268, 6267, 6266,
          6265, 6264, 6263, 6262, 6261, 6260, 6259, 6258, 6257, 6256, 6255, 6254, 6253, 6252, 6251, 6250, 6249, 6248,
          6247, 6246, 6245, 6244, 6243, 6242, 6241, 6240, 6239, 6238, 6237, 6236, 6235, 6234, 6233, 6232, 6231, 6230,
          6229, 6228, 6227, 6226, 6225, 6224, 6223, 6221, 6220,
          6258, 6257, 6256, 6255, 6254, 6253, 6252, 6251, 6250, 6249, 6248, 6247, 6246]
samples = [x_6285, x_6284, x_6282, x_6280, x_6279, x_6278, x_6277, x_6276, x_6275, x_6274, x_6273, x_6272, x_6271,
           x_6270, x_6269, x_6268, x_6267, x_6266, x_6265, x_6264, x_6263, x_6262, x_6261, x_6260, x_6259, x_6258,
           x_6257, x_6256, x_6255, x_6254, x_6253, x_6252, x_6251, x_6250, x_6249, x_6248, x_6247, x_6246, x_6245,
           x_6244, x_6243, x_6242, x_6241, x_6240, x_6239, x_6238, x_6237, x_6236, x_6235, x_6234, x_6233, x_6232,
           x_6231, x_6230, x_6229, x_6228, x_6227, x_6226, x_6225, x_6224, x_6223, x_6221, x_6220,
           more_6258, more_6257, more_6256, more_6255, more_6254, more_6253, more_6252, more_6251, more_6250, more_6249,
           more_6248, more_6247, more_6246]

x = []
y = []
for level, row in zip(levels, samples):
    x += row
    y += [level] * len(row)

mean_val = 6252.53
std_val = 8.29

plt.figure(figsize=(10, 10))
plt.plot(x, y, 'k.', label='Samples\n$\\mu$ = %.2f, $\\sigma$ = %.2f' % (mean_val, std_val))
plt.title('Run 657, channel091, Pedestal')
plt.xlabel('Sample #')
plt.ylabel('ADC Counts')
plt.grid(True)
plt.legend(loc='upper right')
plt.subplots_adjust(left=0.081, right=0.985, top=0.965, bottom=0.058)
plt.savefig('out.png', dpi=100)
